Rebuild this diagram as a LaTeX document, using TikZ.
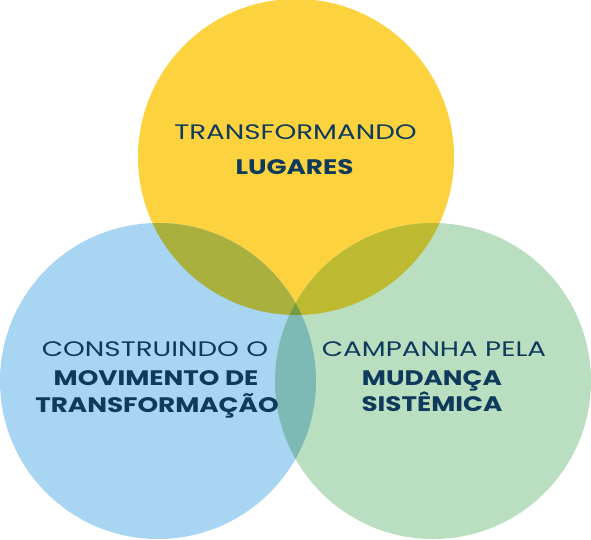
\documentclass[tikz,border=0pt]{standalone}
\usepackage{fontspec}
\setmainfont{Poppins}
\newfontfamily\widefont[FakeStretch=1.32]{Poppins}
\newfontfamily\boldwidefont[FakeStretch=1.25,UprightFont={* Bold}]{Poppins}
\definecolor{cyellow}{HTML}{FDD23F}
\definecolor{cblue}{HTML}{A8D5F2}
\definecolor{cgreen}{HTML}{B9DEC0}
\definecolor{cyb}{HTML}{A9B03E}
\definecolor{cyg}{HTML}{BDBA31}
\definecolor{cbg}{HTML}{7DBAB5}
\definecolor{cybg}{HTML}{7A9A40}
\definecolor{navy}{HTML}{0E3B5C}
\tikzset{
  thin/.style={font=\widefont\fontsize{21}{21}\selectfont, text=navy, inner sep=0pt, anchor=base},
  heavy/.style={font=\widefont\fontsize{21}{21}\selectfont\bfseries\addfontfeature{FakeStretch=1.25}, text=navy, inner sep=0pt, anchor=base}
}
\begin{document}
\begin{tikzpicture}[x=1pt,y=-1pt]
\useasboundingbox (0,0) rectangle (591,539);
\coordinate (Y) at (296,157);
\coordinate (B) at (158,381);
\coordinate (G) at (433,381);
\def\R{158}
\fill[cyellow] (Y) circle (\R);
\fill[cblue] (B) circle (\R);
\fill[cgreen] (G) circle (\R);
\begin{scope}
  \clip (Y) circle (\R);
  \fill[cyb] (B) circle (\R);
  \fill[cyg] (G) circle (\R);
\end{scope}
\begin{scope}
  \clip (B) circle (\R);
  \fill[cbg] (G) circle (\R);
  \clip (G) circle (\R);
  \fill[cybg] (Y) circle (\R);
\end{scope}
\node[thin] (t1) at (295.5,139) {TRANSFORMANDO};
\node[heavy] (t2) at (294.5,174) {LUGARES};
\node[thin] (l1) at (155,356) {CONSTRUINDO O};
\node[heavy] (l2) at (156,385) {MOVIMENTO DE};
\node[heavy] (l3) at (157,412) {TRANSFORMAÇÃO};
\node[thin] (r1) at (434,356) {CAMPANHA PELA};
\node[heavy] (r2) at (432,385) {MUDANÇA};
\node[heavy] (r3) at (432,411) {SISTÊMICA};
\end{tikzpicture}
\end{document}
